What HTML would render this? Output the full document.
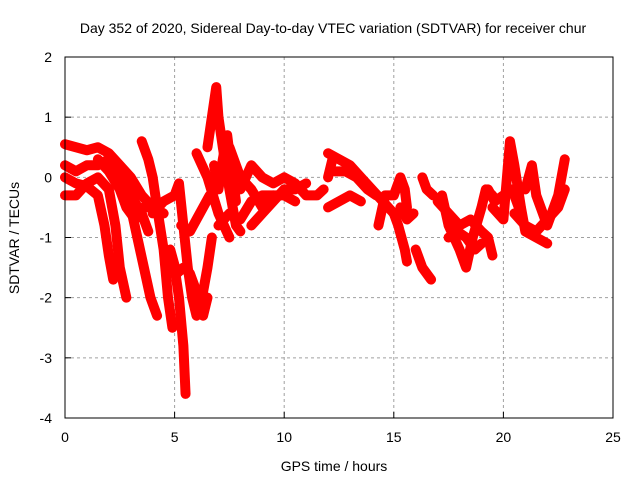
<!DOCTYPE html>
<html><head><meta charset="utf-8"><style>
body{margin:0;background:#fff}
svg text{font-family:"Liberation Sans",sans-serif;font-size:14px;fill:#000}
</style></head><body>
<svg width="640" height="480" id="chart">
<rect width="640" height="480" fill="#fff"/>
<text x="333" y="33" text-anchor="middle">Day 352 of 2020, Sidereal Day-to-day VTEC variation (SDTVAR) for receiver chur</text>
<text x="334" y="471" text-anchor="middle">GPS time / hours</text>
<text transform="translate(19,238) rotate(-90)" text-anchor="middle">SDTVAR / TECUs</text>
<g id="grid"></g><g id="ticks"></g><g id="marks"></g>
<rect x="65" y="57" width="548" height="361" fill="none" stroke="#000" stroke-width="1"/>
</svg>
<script>
const xTicks=[0,5,10,15,20,25];
const yTicks=[2,1,0,-1,-2,-3,-4];
const tracks=[
[[0,0.55],[0.5,0.5],[1,0.45],[1.5,0.5],[2,0.4],[2.5,0.2],[3,0],[3.5,-0.3],[4,-0.5],[4.5,-0.6]],
[[0,0.2],[0.5,0.1],[1,0.2],[1.5,0.2],[2,0.3],[2.5,0.1],[3,-0.3],[3.5,-0.6],[3.8,-0.9]],
[[0,-0.3],[0.5,-0.3],[1,-0.1],[1.5,0],[2,-0.2],[2.3,-0.8],[2.5,-1.5],[2.8,-2.0]],
[[0,0],[0.5,-0.1],[1,-0.15],[1.5,-0.3],[1.8,-0.8],[2,-1.3],[2.2,-1.7]],
[[1.5,0.3],[2,0.1],[2.5,-0.2],[2.8,-0.5],[3.2,-0.7],[3.6,-0.5],[4,-0.5]],
[[3.5,0.6],[3.8,0.3],[4,0],[4.2,-0.5],[4.5,-1.2],[4.7,-2.0],[4.9,-2.5]],
[[4,-0.6],[4.5,-0.4],[5,-0.3],[5.2,-0.1],[5.4,-0.8],[5.6,-1.5],[5.8,-2.0],[6,-2.3],[6.2,-2.1],[6.5,-1.5],[6.7,-1.0]],
[[3,-0.5],[3.3,-1.0],[3.6,-1.5],[3.9,-2.0],[4.2,-2.3]],
[[4.8,-1.2],[5.1,-1.6],[5.4,-1.5],[5.7,-1.6],[6.0,-1.9],[6.3,-2.3],[6.5,-2.0]],
[[5,-1.5],[5.2,-2.0],[5.4,-2.8],[5.5,-3.6]],
[[5.3,-0.8],[5.7,-0.9],[6,-0.7],[6.3,-0.5],[6.6,-0.3]],
[[6.5,0.5],[6.7,1.0],[6.9,1.5],[7,1.0],[7.2,0.5],[7.5,-0.2],[7.8,-0.8],[8,-0.9]],
[[6,0.4],[6.5,0],[7,-0.6],[7.5,-1.0]],
[[6.8,0.2],[7,-0.2],[7.2,0.3],[7.4,0.7],[7.6,0.1],[7.8,-0.4]],
[[7.5,0.5],[8,0],[8.5,-0.2],[9,-0.5],[9.5,-0.3]],
[[8,-0.2],[8.5,0.2],[9,0],[9.5,-0.1],[10,0],[10.5,-0.1],[11,-0.3],[11.5,-0.3],[11.8,-0.2]],
[[7,-0.8],[7.5,-0.6],[8,-0.7],[8.5,-0.4],[9,-0.3],[10,-0.3],[10.5,-0.4]],
[[8.5,-0.8],[9,-0.6],[9.5,-0.4],[10,-0.2],[10.5,-0.2],[11,-0.1]],
[[12,0.4],[12.5,0.3],[13,0.2],[13.5,0],[14,-0.2],[14.5,-0.4],[15,-0.6]],
[[12.3,0.1],[12.8,0.1],[13.3,0],[13.8,-0.2],[14.2,-0.3]],
[[12,-0.5],[12.5,-0.4],[13,-0.3],[13.5,-0.4]],
[[12,0],[12.2,0.3]],
[[14.3,-0.8],[14.6,-0.3],[15,-0.3],[15.3,0],[15.5,-0.2],[15.6,-0.5]],
[[15,-0.6],[15.2,-0.8],[15.5,-1.2],[15.6,-1.4]],
[[15.3,-0.5],[15.6,-0.7],[15.9,-0.6]],
[[16,-1.2],[16.3,-1.5],[16.7,-1.7]],
[[16.3,0],[16.5,-0.2],[16.8,-0.3]],
[[17.2,-0.3],[17.5,-0.8],[18,-1.2],[18.3,-1.5],[18.6,-1.0],[19,-0.5],[19.2,-0.2],[19.5,-0.3]],
[[17,-0.4],[17.5,-0.6],[18,-0.8],[18.5,-0.7],[19,-0.9],[19.3,-1.0],[19.5,-1.3]],
[[17.5,-1.0],[17.9,-0.9],[18.3,-1.0],[18.7,-1.2],[19,-1.1]],
[[19.5,-0.5],[20,-0.7],[20.3,0.6],[20.5,0.2],[20.8,-0.5],[21,-0.9],[21.5,-1.0],[22,-1.1]],
[[19.3,-0.2],[19.6,-0.4],[20,-0.3],[20.4,-0.2],[20.8,-0.6]],
[[21,-0.2],[21.3,0.2],[21.5,-0.3],[22,-0.8],[22.5,-0.3],[22.8,0.3]],
[[20.5,-0.6],[21,-0.8],[21.5,-0.9],[22,-0.7],[22.5,-0.5],[22.8,-0.2]]
];
const NS='http://www.w3.org/2000/svg';
const X=t=>65+t*548/25, Y=v=>57+(2-v)*361/6;
const grid=document.getElementById('grid'),ticks=document.getElementById('ticks'),marks=document.getElementById('marks');
function mk(tag,attrs,parent){const e=document.createElementNS(NS,tag);for(const k in attrs)e.setAttribute(k,attrs[k]);parent.appendChild(e);return e;}
xTicks.forEach(t=>{
  if(t>0&&t<25){const g=mk('line',{x1:X(t),x2:X(t),y1:57,y2:418,stroke:'#a0a0a0','stroke-dasharray':'3,3'},grid);
  
  }
  const l=mk('text',{x:X(t),y:442,'text-anchor':'middle'},ticks);l.textContent=t;
  
  
  mk('line',{x1:X(t),x2:X(t),y1:418,y2:412,stroke:'#000'},ticks);
});
yTicks.forEach(v=>{
  if(v<2&&v>-4){const g=mk('line',{x1:65,x2:613,y1:Y(v),y2:Y(v),stroke:'#a0a0a0','stroke-dasharray':'3,3'},grid);
  
  }
  const l=mk('text',{x:52,y:Y(v)+5,'text-anchor':'end'},ticks);l.textContent=v;
  
  
  mk('line',{x1:65,x2:71,y1:Y(v),y2:Y(v),stroke:'#000'},ticks);
});
tracks.forEach(tr=>{
  const p=mk('polyline',{points:tr.map(d=>X(d[0])+','+Y(d[1])).join(' '),fill:'none',stroke:'#f00','stroke-width':10,'stroke-linejoin':'round','stroke-linecap':'round'},marks);
  
  
  tr.forEach(d=>{
    const m=mk('path',{d:`M${X(d[0])-4},${Y(d[1])}h8M${X(d[0])},${Y(d[1])-4}v8`,stroke:'#f00','stroke-width':1.5},marks);
    
    
  });
});
</script>
</body></html>
